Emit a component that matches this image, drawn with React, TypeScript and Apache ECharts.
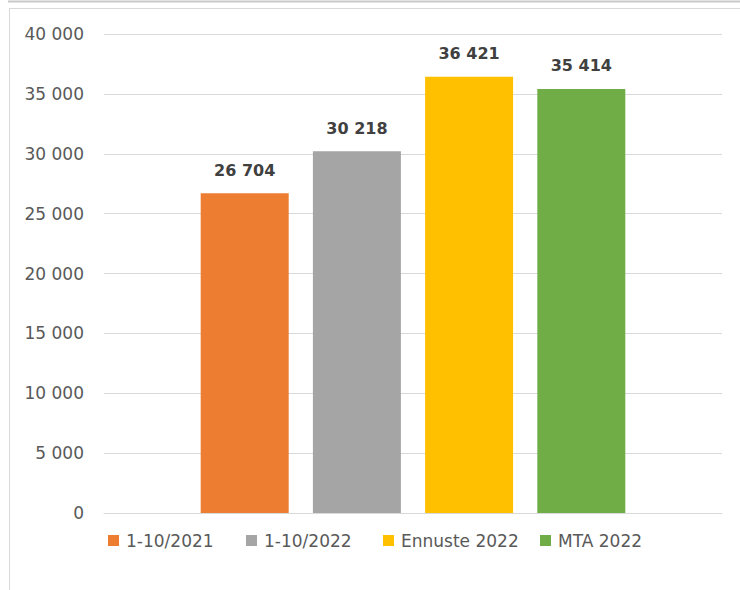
import React, { useEffect, useRef } from "react";
import * as echarts from "echarts";

const categories = [""];
const seriesNames = ["1-10/2021", "1-10/2022", "Ennuste 2022", "MTA 2022"];
const seriesValues = [26704, 30218, 36421, 35414];
const seriesColors = ["#ED7D31", "#A5A5A5", "#FFC000", "#70AD47"];
const legendLefts = [103, 241, 378, 535];
const yTicks = { min: 0, max: 40000, interval: 5000 };

const fmt = (v: number) => {
  const s = Math.round(v).toString();
  return s.replace(/\B(?=(\d{3})+(?!\d))/g, " ");
};

export default function App() {
  const ref = useRef<HTMLDivElement>(null);
  useEffect(() => {
    if (!ref.current) return;
    const chart = echarts.init(ref.current, null, { renderer: "svg" });
    chart.setOption({
      animation: false,
      backgroundColor: "#ffffff",
      textStyle: { fontFamily: "DejaVu Sans" },
      grid: { left: 104, right: 18, top: 34, bottom: 77, containLabel: false },
      xAxis: {
        type: "category",
        data: categories,
        axisLine: { show: true, lineStyle: { color: "#d9d9d9", width: 1 } },
        axisTick: { show: false },
        axisLabel: { show: false },
      },
      yAxis: {
        type: "value",
        min: yTicks.min,
        max: yTicks.max,
        interval: yTicks.interval,
        axisLine: { show: false },
        axisTick: { show: false },
        splitLine: { lineStyle: { color: "#d9d9d9", width: 1 } },
        axisLabel: {
          margin: 20,
          color: "#595959",
          fontSize: 17,
          fontFamily: "DejaVu Sans",
          formatter: (v: number) => fmt(v),
        },
      },
      legend: seriesNames.map((name, i) => ({
        left: legendLefts[i],
        top: 527,
        itemWidth: 11,
        itemHeight: 11,
        icon: "rect",
        textStyle: {
          color: "#595959",
          fontSize: 17,
          fontFamily: "DejaVu Sans",
          padding: [0, 0, 0, 2],
        },
        data: [name],
      })),
      series: seriesNames.map((name, i) => ({
        name,
        type: "bar",
        data: [seriesValues[i]],
        barWidth: 88,
        barGap: "27.5%",
        itemStyle: { color: seriesColors[i] },
        label: {
          show: true,
          position: "top",
          distance: 15,
          color: "#404040",
          fontWeight: "bold",
          fontSize: 16,
          fontFamily: "DejaVu Sans",
          formatter: (p: any) => fmt(p.value),
        },
      })),
      graphic: [
        {
          type: "line",
          shape: { x1: 8, y1: 1.5, x2: 740, y2: 1.5 },
          style: { stroke: "#c8c8c8", lineWidth: 2 },
          silent: true,
        },
        {
          type: "polyline",
          shape: { points: [[9.5, 590], [9.5, 8.5], [740, 8.5]] },
          style: { stroke: "#d9d9d9", lineWidth: 1, fill: "none" },
          silent: true,
        },
      ],
    });
    return () => chart.dispose();
  }, []);
  return <div ref={ref} style={{ width: 740, height: 590, position: "absolute", left: 0, top: 0 }} />;
}
